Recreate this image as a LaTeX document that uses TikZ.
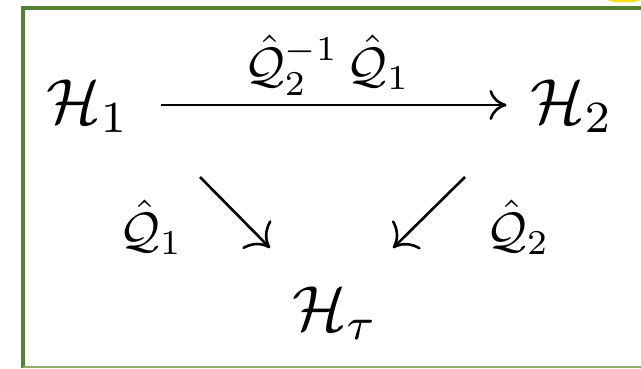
\documentclass[tikz,border=0pt]{standalone}
\usetikzlibrary{arrows.meta}
\definecolor{frameGreen}{RGB}{84,130,53}
\definecolor{frameLight}{RGB}{140,175,110}
\definecolor{blobYellow}{RGB}{255,222,20}
\begin{document}
\begin{tikzpicture}[x=1bp,y=-1bp,
  bigmath/.style={font=\fontsize{10bp}{12bp}\selectfont, inner sep=0pt, scale=6.4, transform shape},
  labmath/.style={font=\fontsize{10bp}{12bp}\selectfont, inner sep=0pt, scale=5.0, transform shape},
  objnode/.style={bigmath, text height=7.19bp, text depth=1.56bp},
  arr/.style={line width=2.6bp, -{Computer Modern Rightarrow[length=17bp,width=30bp]}},
  diagarr/.style={line width=2.6bp, -{Computer Modern Rightarrow[length=20bp,width=40bp]}}]
\useasboundingbox (0,0) rectangle (641,368);
\fill[white] (0,0) rectangle (641,368);
% yellow blob top right
\fill[blobYellow] (624,-4) ellipse [x radius=22, y radius=6.5];
% frame
\draw[frameGreen, line width=4bp] (23,368) -- (23,8) -- (641,8);
\draw[frameLight, line width=1.5bp] (23,367) -- (641,367);
% nodes
\node[objnode] (h1) at (88,105) {$\mathcal{H}_1$};
\node[objnode] (h2) at (572,105) {$\mathcal{H}_2$};
\node[labmath, anchor=base] (lab) at (327,82) {$\hat{\mathcal{Q}}_2^{-1}\,\hat{\mathcal{Q}}_1$};
\node[labmath, anchor=base] (q1) at (151,247) {$\hat{\mathcal{Q}}_1$};
\node[labmath, anchor=base] (q2) at (518,247) {$\hat{\mathcal{Q}}_2$};
\node[bigmath, anchor=base] (ht) at (335,330) {$\mathcal{H}_\tau$};
% connectors
\draw[arr, shorten <=30bp, shorten >=23bp] (h1.east) -- (h2.west);
\coordinate (d1s) at (200,177);
\coordinate (d1e) at (270,248);
\coordinate (d2s) at (465,177);
\coordinate (d2e) at (393,248);
\draw[diagarr] (d1s) -- (d1e);
\draw[diagarr] (d2s) -- (d2e);
\end{tikzpicture}
\end{document}
